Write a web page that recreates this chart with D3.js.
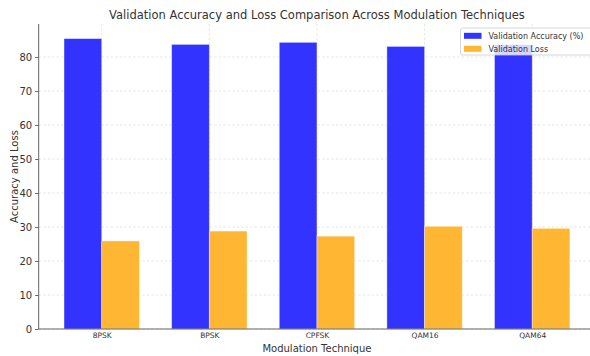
<!DOCTYPE html>
<html>
<head>
<meta charset="utf-8">
<script src="https://cdn.jsdelivr.net/npm/d3@7"></script>
<style>
  html, body { margin: 0; padding: 0; background: #fff; }
  svg { display: block; font-family: "DejaVu Sans", sans-serif; }
</style>
</head>
<body>
<svg id="chart" width="590" height="356"></svg>
<script>
// Modulation schemes and their validation metrics
const categories = ["8PSK", "BPSK", "CPFSK", "QAM16", "QAM64"];
const accuracy = [85.4, 83.7, 84.3, 83.1, 83.6];
const loss = [25.9, 28.8, 27.3, 30.2, 29.6];
const yTicks = [0, 10, 20, 30, 40, 50, 60, 70, 80];
const seriesNames = ["Validation Accuracy (%)", "Validation Loss"];

const colors = ["#3333ff", "#ffb733"];
const svg = d3.select("#chart");

const plot = { left: 38.7, right: 595.2, top: 24, bottom: 329 };

const x = d3.scalePoint().domain(categories).range([101.7, 532.2]);
const step = x.step();
const barW = step * 0.35;
const y = d3.scaleLinear().domain([0, 89.7]).range([plot.bottom, plot.top]);

// grid lines
const grid = svg.append("g").attr("stroke", "#e2e2e2").attr("stroke-width", 0.8)
  .attr("stroke-dasharray", "2.5,2");
grid.selectAll("line.h").data(yTicks).join("line")
  .attr("class", "h")
  .attr("x1", plot.left).attr("x2", plot.right)
  .attr("y1", d => y(d)).attr("y2", d => y(d));
grid.selectAll("line.v").data(categories).join("line")
  .attr("class", "v")
  .attr("x1", d => x(d)).attr("x2", d => x(d))
  .attr("y1", plot.top).attr("y2", plot.bottom);

// bars
const series = [accuracy, loss];
series.forEach((vals, si) => {
  svg.append("g").selectAll("rect").data(categories).join("rect")
    .attr("x", c => x(c) + (si === 0 ? -barW : 0))
    .attr("width", barW)
    .attr("y", (c, i) => y(vals[i]))
    .attr("height", (c, i) => y(0) - y(vals[i]))
    .attr("fill", colors[si])
    .attr("stroke", "#ffffff")
    .attr("stroke-opacity", 0.45)
    .attr("stroke-width", 0.8);
});

// y axis
const yAxis = svg.append("g")
  .attr("transform", `translate(${plot.left},0)`)
  .call(d3.axisLeft(y).tickValues(yTicks).tickSize(3.5).tickPadding(3));
yAxis.select(".domain").attr("stroke", "#666").attr("d", `M0,${plot.top}V${plot.bottom}`);
yAxis.selectAll(".tick line").attr("stroke", "#666");
yAxis.selectAll(".tick text").attr("font-size", 10).attr("fill", "#333")
  .attr("font-family", "DejaVu Sans");

// x axis
const xAxis = svg.append("g")
  .attr("transform", `translate(0,${plot.bottom})`)
  .call(d3.axisBottom(x).tickSize(0).tickPadding(3.5));
xAxis.select(".domain").attr("stroke", "#666").attr("d", `M${plot.left},0H${plot.right}`);
xAxis.selectAll(".tick text").attr("font-size", 7.5).attr("fill", "#333")
  .attr("font-family", "DejaVu Sans");

// titles
svg.append("text").attr("x", (plot.left + plot.right) / 2).attr("y", 19)
  .attr("text-anchor", "middle").attr("font-size", 11.5).attr("fill", "#333")
  .text("Validation Accuracy and Loss Comparison Across Modulation Techniques");
svg.append("text").attr("x", (plot.left + plot.right) / 2).attr("y", 351.5)
  .attr("text-anchor", "middle").attr("font-size", 10).attr("fill", "#333")
  .text("Modulation Technique");
svg.append("text")
  .attr("transform", `translate(17.5,${(plot.top + plot.bottom) / 2}) rotate(-90)`)
  .attr("text-anchor", "middle").attr("font-size", 10).attr("fill", "#333")
  .text("Accuracy and Loss");

// legend
const lg = svg.append("g").attr("transform", "translate(460.5,28)");
lg.append("rect").attr("width", 134).attr("height", 27).attr("rx", 2)
  .attr("fill", "#ffffff").attr("fill-opacity", 0.8)
  .attr("stroke", "#cccccc").attr("stroke-width", 0.8);
seriesNames.forEach((name, i) => {
  lg.append("rect").attr("x", 3.5).attr("y", 4.8 + i * 13)
    .attr("width", 17.5).attr("height", 6).attr("fill", colors[i]);
  lg.append("text").attr("x", 28).attr("y", 10.5 + i * 13)
    .attr("font-size", 8).attr("fill", "#333").text(name);
});
</script>
</body>
</html>
